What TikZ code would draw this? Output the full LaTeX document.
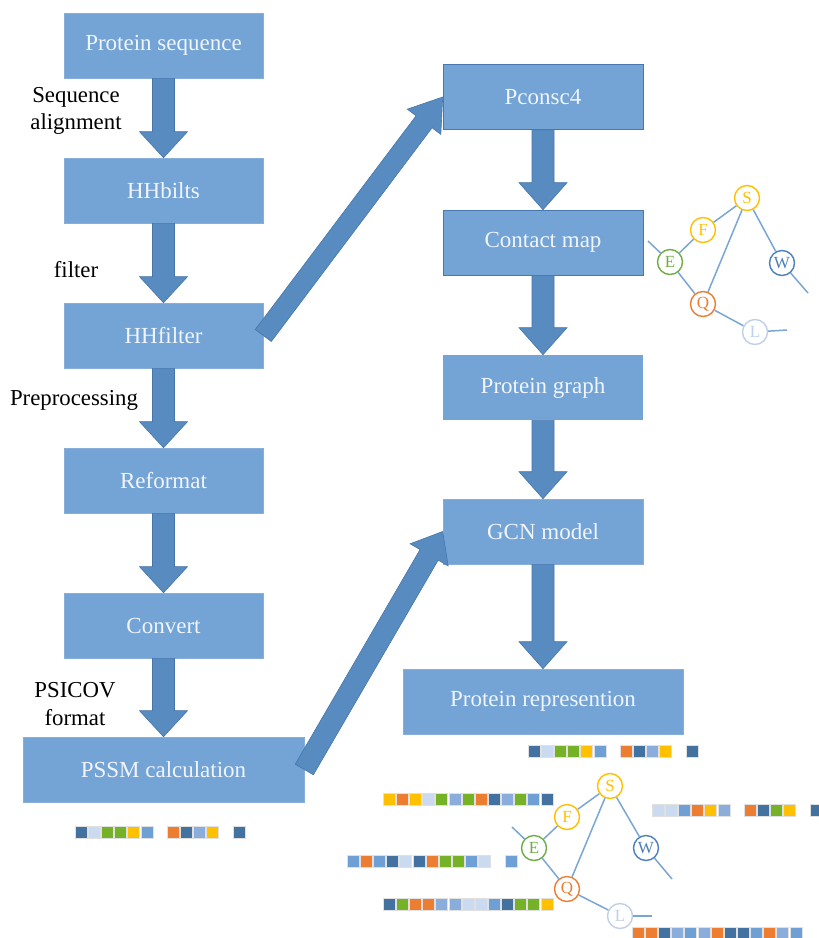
\documentclass[tikz,border=0pt]{standalone}
\usepackage{fontspec}
\setmainfont{Liberation Serif}
\usetikzlibrary{calc}
\definecolor{boxfill}{RGB}{116,164,213}
\definecolor{boxline}{RGB}{135,175,218}
\definecolor{boxdark}{RGB}{72,120,176}
\definecolor{boxtext}{RGB}{240,245,252}
\definecolor{arrfill}{RGB}{88,140,192}
\definecolor{arrline}{RGB}{70,118,172}
\definecolor{edgecol}{RGB}{122,166,214}
\definecolor{colS}{RGB}{255,192,0}
\definecolor{colE}{RGB}{112,173,71}
\definecolor{colQ}{RGB}{237,125,49}
\definecolor{colW}{RGB}{78,128,190}
\definecolor{colL}{RGB}{192,208,232}
\definecolor{cD}{RGB}{68,114,160}
\definecolor{cL}{RGB}{202,218,240}
\definecolor{cG}{RGB}{117,178,40}
\definecolor{cY}{RGB}{255,192,0}
\definecolor{cB}{RGB}{110,160,214}
\definecolor{cM}{RGB}{138,173,219}
\definecolor{cO}{RGB}{237,125,49}
\tikzset{
  pbox/.style={rectangle, fill=boxfill, draw=boxline, line width=0.6pt,
    minimum width=199pt, minimum height=65pt, inner sep=0pt,
    text=boxtext, font=\fontsize{23}{26}\selectfont},
  pboxdark/.style={pbox, draw=boxdark},
  lbl/.style={align=center, inner sep=0pt, text=black, font=\fontsize{22.8}{27.5}\selectfont},
  fatarrow/.style={fill=arrfill, draw=arrline, line width=0.6pt, line join=miter},
  gnode/.style={circle, fill=white, line width=1.4pt, minimum size=25pt, inner sep=0pt,
    font=\fontsize{17}{17}\selectfont},
  gedge/.style={draw=edgecol, line width=1.5pt},
  cellbox/.style={draw=black!12, line width=0.4pt}
}
\newcommand{\blockarrow}[5]{%
  \path ($(#2)!#5!(#1)$) coordinate (hb);
  \filldraw[fatarrow] ($(#1)!#3!90:(#2)$) -- ($(hb)!#3!90:(#2)$) -- ($(hb)!#4!90:(#2)$) -- (#2)
    -- ($(hb)!#4!-90:(#2)$) -- ($(hb)!#3!-90:(#2)$) -- ($(#1)!#3!-90:(#2)$) -- cycle;
}
\newcommand{\cellrow}[3]{%
  \foreach \c [count=\i from 0] in {#3} {
    \if W\c\else
      \fill[c\c] ({#1+13.15*\i},#2) rectangle ++(12,12);
      \draw[cellbox] ({#1+13.15*\i},#2) rectangle ++(12,12);
    \fi
  }
}
\begin{document}
\begin{tikzpicture}[x=1pt,y=-1pt]
\useasboundingbox (0,0) rectangle (819,938);
\clip (0,0) rectangle (819,938);
\fill[white] (0,0) rectangle (819,938);

% left column
\node[pbox] (ps) at (163.5,45.5) {Protein sequence};
\node[pbox] (hhb) at (163.5,190.5) {HHbilts};
\node[pbox] (hhf) at (163.5,335.5) {HHfilter};
\node[pbox] (ref) at (163.5,480.5) {Reformat};
\node[pbox] (conv) at (163.5,625.5) {Convert};
\node[pbox, minimum width=281pt] (pssm) at (163.5,769.5) {PSSM calculation};

% right column
\node[pboxdark, minimum width=200pt] (pc4) at (543,97) {Pconsc4};
\node[pboxdark, minimum width=200pt] (cmap) at (543,242.5) {Contact map};
\node[pbox, minimum width=200pt, draw=none] (pgraph) at (543,387.5) {Protein graph};
\node[pbox, minimum width=200pt] (gcn) at (543,531.5) {GCN model};
\node[pbox, minimum width=280pt] (prep) at (543,701.5) {Protein represention};

% labels
\node[lbl] (l1) at (76,111) {Sequence\\alignment};
\node[lbl] (l2) at (76,270) {filter};
\node[lbl] (l3) at (74,400) {Preprocessing};
\node[lbl] (l4) at (75,704) {PSICOV\\format};

% vertical arrows
\blockarrow{ps.south}{hhb.north}{11pt}{24pt}{26pt}
\blockarrow{hhb.south}{hhf.north}{11pt}{24pt}{26pt}
\blockarrow{hhf.south}{ref.north}{11pt}{24pt}{26pt}
\blockarrow{ref.south}{conv.north}{11pt}{24pt}{26pt}
\blockarrow{conv.south}{pssm.north}{11pt}{24pt}{26pt}
\blockarrow{pc4.south}{cmap.north}{11pt}{24pt}{27pt}
\blockarrow{cmap.south}{pgraph.north}{11pt}{24pt}{27pt}
\blockarrow{pgraph.south}{gcn.north}{11pt}{24pt}{27pt}
\blockarrow{gcn.south}{prep.north}{11pt}{24pt}{27pt}
% diagonal arrows
\blockarrow{hhf.east}{pc4.west}{10pt}{21pt}{31pt}
\blockarrow{pssm.east}{gcn.west}{10.5pt}{22pt}{27pt}

% graph 1
\coordinate (e1t) at (648,241);
\coordinate (w1t) at (808,293);
\coordinate (l1t) at (787,330);
\node[gnode, draw=colS, text=colS] (s1) at (747,198) {S};
\node[gnode, draw=colS, text=colS] (f1) at (703,230) {F};
\node[gnode, draw=colE, text=colE] (e1) at (670,262) {E};
\node[gnode, draw=colQ, text=colQ] (q1) at (703,304) {Q};
\node[gnode, draw=colW, text=colW] (w1) at (782,263) {W};
\node[gnode, draw=colL, text=colL] (ll1) at (755,332) {L};
\draw[gedge] (e1t) -- (e1);
\draw[gedge] (e1) -- (f1);
\draw[gedge] (f1) -- (s1);
\draw[gedge] (s1) -- (q1);
\draw[gedge] (e1) -- (q1);
\draw[gedge] (s1) -- (w1);
\draw[gedge] (w1) -- (w1t);
\draw[gedge] (q1) -- (ll1);
\draw[gedge] (ll1) -- (l1t);

% graph 2
\coordinate (e2t) at (512,827);
\coordinate (w2t) at (672,879);
\coordinate (l2t) at (652,916);
\node[gnode, draw=colS, text=colS] (s2) at (610,786) {S};
\node[gnode, draw=colS, text=colS] (f2) at (567,817) {F};
\node[gnode, draw=colE, text=colE] (e2) at (534,848) {E};
\node[gnode, draw=colQ, text=colQ] (q2) at (567,889) {Q};
\node[gnode, draw=colW, text=colW] (w2) at (646,848) {W};
\node[gnode, draw=colL, text=colL] (ll2) at (620,916) {L};
\draw[gedge] (e2t) -- (e2);
\draw[gedge] (e2) -- (f2);
\draw[gedge] (f2) -- (s2);
\draw[gedge] (s2) -- (q2);
\draw[gedge] (e2) -- (q2);
\draw[gedge] (s2) -- (w2);
\draw[gedge] (w2) -- (w2t);
\draw[gedge] (q2) -- (ll2);
\draw[gedge] (ll2) -- (l2t);

% feature rows
\cellrow{528}{745}{D,L,G,G,Y,B,W,O,D,M,Y,W,D}
\cellrow{75}{826}{D,L,G,G,Y,B,W,O,D,M,Y,W,D}
\cellrow{383}{793}{Y,O,Y,L,G,M,G,O,D,M,G,B,D}
\cellrow{347}{855}{B,O,B,D,L,D,O,G,G,B,L,W,B}
\cellrow{383}{898}{D,G,O,O,M,M,L,L,B,D,G,G,Y}
\cellrow{652}{804}{L,L,B,O,Y,M,W,O,D,G,Y,W,D}
\cellrow{632}{927}{O,O,D,M,B,M,O,D,D,B,O,M,B}
\end{tikzpicture}
\end{document}
